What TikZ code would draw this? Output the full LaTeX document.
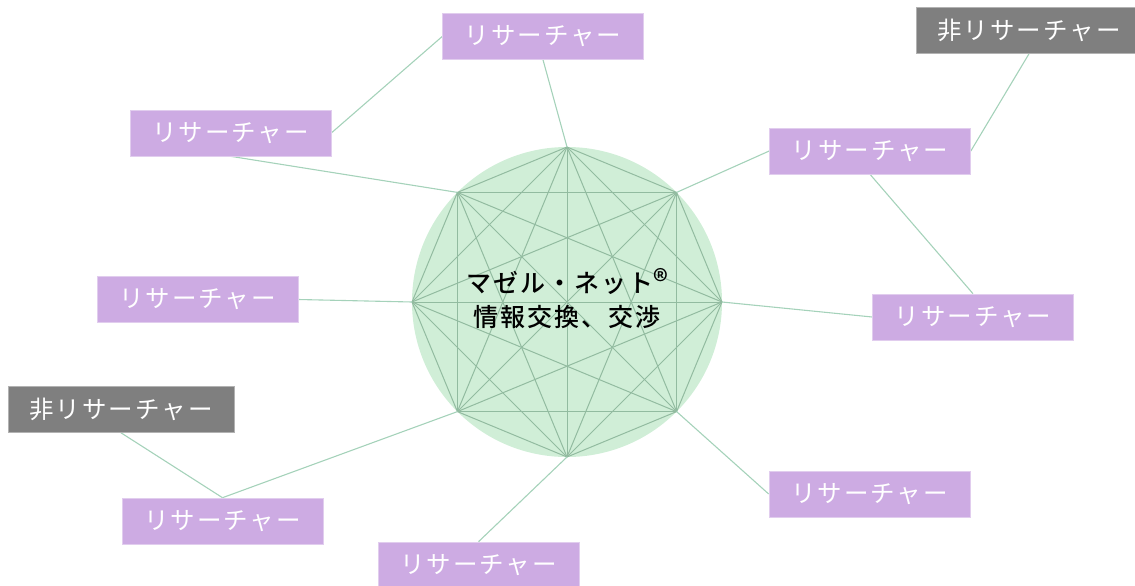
\documentclass[tikz,border=0pt]{standalone}
\usepackage{fontspec}
\usetikzlibrary{calc,backgrounds}
\newfontfamily\jpbox[LetterSpace=8]{Noto Sans CJK JP}
\newfontfamily\jpcenter[LetterSpace=8]{Noto Sans CJK JP Medium}
\definecolor{respurple}{HTML}{CDABE3}
\definecolor{nongray}{HTML}{7F7F7F}
\definecolor{circfill}{HTML}{D0EED7}
\definecolor{chordcol}{HTML}{92BBA0}
\definecolor{linkcol}{HTML}{A5D2BA}
\tikzset{
  resbox/.style={rectangle, fill=respurple, draw=respurple!60!white, line width=0.6pt,
    minimum width=201pt, minimum height=46pt, inner sep=0pt, text=white,
    font=\jpbox\fontsize{24.5}{26}\selectfont},
  nonbox/.style={resbox, fill=nongray, draw=nongray!60!white, minimum width=226pt},
  chord/.style={draw=chordcol, line width=1pt},
  link/.style={draw=linkcol, line width=1.1pt},
}
\begin{document}
\begin{tikzpicture}[x=1pt,y=-1pt]
\useasboundingbox (0,0) rectangle (1135,586);
\coordinate (c) at (567,302);
\foreach \i in {0,...,7} {
  \coordinate (v\i) at ($(c)+({90-45*\i}:155 and -155)$);
}
% boxes
\node[resbox] (t)  at (543,36.5) {リサーチャー};
\node[resbox] (ul) at (230.5,133) {リサーチャー};
\node[resbox] (l)  at (197.5,299.5) {リサーチャー};
\node[nonbox] (nl) at (121,409.5) {非リサーチャー};
\node[resbox] (ll) at (222.5,521) {リサーチャー};
\node[resbox] (b)  at (478.5,565) {リサーチャー};
\node[resbox] (lr) at (869.5,494) {リサーチャー};
\node[resbox] (r)  at (973,317) {リサーチャー};
\node[resbox] (ur) at (870,151) {リサーチャー};
\node[nonbox] (nr) at (1029,30.5) {非リサーチャー};
\begin{scope}[on background layer]
\fill[circfill] (c) circle[radius=155];
\foreach \i in {0,...,7} {
  \foreach \j in {0,...,7} {
    \ifnum\i<\j \draw[chord] (v\i) -- (v\j); \fi
  }
}
\draw[link] (t.south) -- (v0);
\draw[link] (ul.south) -- (v7);
\draw[link] (ul.east) -- (t.west);
\draw[link] (l.east) -- (v6);
\draw[link] (nl.south) -- (ll.north);
\draw[link] (ll.north) -- (v5);
\draw[link] (b.north) -- (v4);
\draw[link] (lr.west) -- (v3);
\draw[link] (r.west) -- (v2);
\draw[link] (ur.south) -- (r.north);
\draw[link] (ur.west) -- (v1);
\draw[link] (ur.east) -- (nr.south);
\end{scope}
\node[align=center, font=\jpcenter\fontsize{25}{34}\selectfont, text=black, inner sep=0pt] (ctext) at (567,299) {マゼル・ネット{\fontsize{30}{30}\selectfont ®}\\情報交換、交渉};
\end{tikzpicture}
\end{document}
